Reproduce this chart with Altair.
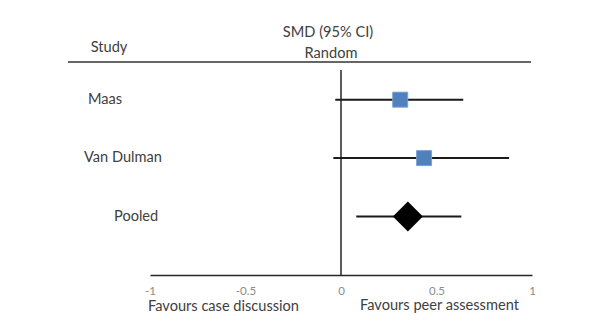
import altair as alt
import pandas as pd

# ---- data ----
studies = ["Maas", "Van Dulman", "Pooled"]
kinds = ["study", "study", "pooled"]
smd = [0.31, 0.435, 0.35]
ci_low = [-0.03, -0.04, 0.08]
ci_high = [0.64, 0.88, 0.63]
tick_values = [-1, -0.5, 0, 0.5, 1]

df = pd.DataFrame({
    "study": studies,
    "kind": kinds,
    "smd": smd,
    "lo": ci_low,
    "hi": ci_high,
    "row": list(range(len(studies))),
})

FONT = "Lato"
TXT = "#404040"
FS = 14.6

xs = alt.Scale(domain=[-1, 1], nice=False, zero=False)
ys = alt.Scale(domain=[-1.5, 3], reverse=True, nice=False, zero=False)

base = alt.Chart(df)

ci = base.mark_rule(color="#1a1a1a", strokeWidth=2).encode(
    x=alt.X("lo:Q", scale=xs,
            axis=alt.Axis(values=tick_values, labelExpr="datum.value", title=None,
                          ticks=False, grid=False, domainColor="#262626", domainWidth=1.5,
                          labelColor="#8c8c8c", labelFont=FONT, labelFontSize=11.5,
                          labelPadding=10, labelFlush=False)),
    x2="hi:Q",
    y=alt.Y("row:Q", scale=ys, axis=None),
)

squares = base.transform_filter("datum.kind == 'study'").mark_point(
    shape="square", filled=True, size=225, color="#4f81bd", stroke="#7aa0d4",
    strokeWidth=1, opacity=1
).encode(x=alt.X("smd:Q", scale=xs), y=alt.Y("row:Q", scale=ys))

diamond = base.transform_filter("datum.kind == 'pooled'").mark_point(
    shape="diamond", filled=True, size=900, color="black", opacity=1
).encode(x=alt.X("smd:Q", scale=xs), y=alt.Y("row:Q", scale=ys))

zero_line = alt.Chart(pd.DataFrame({"z": [0]})).mark_rule(
    color="#262626", strokeWidth=1.5
).encode(x=alt.X("z:Q", scale=xs), y=alt.value(58), y2=alt.value(263))

header_rule = alt.Chart(pd.DataFrame({"z": [0]})).mark_rule(
    color="#333333", strokeWidth=1.5
).encode(x=alt.value(-82), x2=alt.value(381), y=alt.value(50))


def label(text, x, y, align="center", size=FS):
    return alt.Chart(pd.DataFrame({"t": [text]})).mark_text(
        font=FONT, fontSize=size, color=TXT, align=align, baseline="middle"
    ).encode(text="t:N", x=alt.value(x), y=alt.value(y))


row_labels = []
for name, px in zip(studies, [-62, -66, -36]):
    row_labels.append(
        alt.Chart(df).transform_filter(alt.datum.study == name).mark_text(
            font=FONT, fontSize=FS, color=TXT, align="left", baseline="middle"
        ).encode(text="study:N", x=alt.value(px), y=alt.Y("row:Q", scale=ys))
    )

texts = [
    label("Study", -41, 36),
    label("SMD (95% CI)", 178, 21),
    label("Random", 181, 42),
    label("Favours case discussion", -2, 295, align="left"),
    label("Favours peer assessment", 210, 294, align="left"),
]

chart = alt.layer(
    header_rule, zero_line, ci, squares, diamond, *row_labels, *texts
).properties(
    width=382, height=263,
    padding={"left": 142, "top": 4, "right": 60, "bottom": 50},
    autosize=alt.AutoSizeParams(type="none"),
    background="white",
).configure_view(stroke=None)

chart.save("out.html", embed_options={"renderer": "svg", "actions": False})
